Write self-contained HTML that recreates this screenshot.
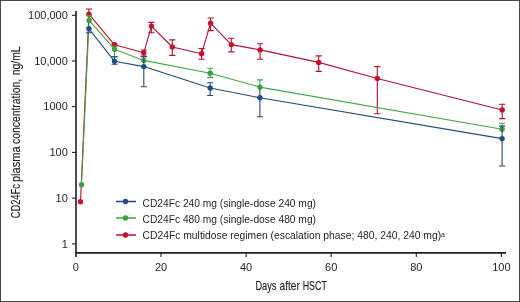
<!DOCTYPE html>
<html><head><meta charset="utf-8"><style>
html,body{margin:0;padding:0;background:#fff;}
body{width:520px;height:302px;overflow:hidden;position:relative;}
.frame{position:absolute;left:0;top:0;width:518px;height:300px;border:1px solid #474747;}
svg{position:absolute;left:0;top:0;will-change:transform;}
.t{font-family:"Liberation Sans",sans-serif;font-size:11px;fill:#231f20;}
.c{font-family:"Liberation Sans",sans-serif;font-size:12.6px;fill:#231f20;stroke:#231f20;stroke-width:0.15px;}
.l{font-family:"Liberation Sans",sans-serif;font-size:10.3px;fill:#231f20;}
.c2{font-family:"Liberation Sans",sans-serif;font-size:12.2px;fill:#231f20;stroke:#231f20;stroke-width:0.15px;}
.s{font-family:"Liberation Sans",sans-serif;font-size:7px;fill:#231f20;}
</style></head><body>
<div class="frame"></div>
<svg width="520" height="302" viewBox="0 0 520 302">
<path d="M76,11V257" stroke="#231f20" stroke-width="1.6" fill="none"/>
<path d="M75.2,252.9H506" stroke="#231f20" stroke-width="1.6" fill="none"/>
<path d="M72,15.3H76" stroke="#231f20" stroke-width="1.1"/>
<text x="67.8" y="19.1" text-anchor="end" class="t">100,000</text>
<path d="M72,61.0H76" stroke="#231f20" stroke-width="1.1"/>
<text x="67.8" y="64.8" text-anchor="end" class="t">10,000</text>
<path d="M72,106.6H76" stroke="#231f20" stroke-width="1.1"/>
<text x="67.8" y="110.4" text-anchor="end" class="t">1000</text>
<path d="M72,152.4H76" stroke="#231f20" stroke-width="1.1"/>
<text x="67.8" y="156.2" text-anchor="end" class="t">100</text>
<path d="M72,198.1H76" stroke="#231f20" stroke-width="1.1"/>
<text x="67.8" y="201.9" text-anchor="end" class="t">10</text>
<path d="M72,243.9H76" stroke="#231f20" stroke-width="1.1"/>
<text x="67.8" y="247.7" text-anchor="end" class="t">1</text>
<text x="75.9" y="270.8" text-anchor="middle" class="t">0</text>
<path d="M161.0,253V257" stroke="#231f20" stroke-width="1.1"/>
<text x="161.0" y="270.8" text-anchor="middle" class="t">20</text>
<path d="M246.1,253V257" stroke="#231f20" stroke-width="1.1"/>
<text x="246.1" y="270.8" text-anchor="middle" class="t">40</text>
<path d="M331.2,253V257" stroke="#231f20" stroke-width="1.1"/>
<text x="331.2" y="270.8" text-anchor="middle" class="t">60</text>
<path d="M416.3,253V257" stroke="#231f20" stroke-width="1.1"/>
<text x="416.3" y="270.8" text-anchor="middle" class="t">80</text>
<path d="M501.4,253V257" stroke="#231f20" stroke-width="1.1"/>
<text x="501.4" y="270.8" text-anchor="middle" class="t">100</text>
<text x="255.5" y="289.6" class="c" textLength="20.9" lengthAdjust="spacingAndGlyphs">Days</text>
<text x="279.6" y="289.6" class="c" textLength="20.2" lengthAdjust="spacingAndGlyphs">after</text>
<text x="302.7" y="289.6" class="c" textLength="24.1" lengthAdjust="spacingAndGlyphs">HSCT</text>
<text transform="translate(19.8,218.3) rotate(-90)" class="c2" textLength="34.2" lengthAdjust="spacingAndGlyphs">CD24Fc</text>
<text transform="translate(19.8,182.1) rotate(-90)" class="c2" textLength="35.8" lengthAdjust="spacingAndGlyphs">plasma</text>
<text transform="translate(19.8,143.9) rotate(-90)" class="c2" textLength="65.0" lengthAdjust="spacingAndGlyphs">concentration,</text>
<text transform="translate(19.8,75.2) rotate(-90)" class="c2" textLength="28.8" lengthAdjust="spacingAndGlyphs">ng/mL</text>
<polyline points="80.5,201.7 88.9,14.2 114.5,44.8 143.8,52.8 151.4,26.1 172.3,47.0 201.6,53.7 210.6,23.2 231.3,44.6 260.1,49.9 318.7,62.4 377.3,78.5 502.2,110.0" fill="none" stroke="#b5112f" stroke-width="1.1" stroke-linejoin="round"/>
<path d="M88.9,14.2V9.0M85.8,9.0H92.0" stroke="#b5112f" stroke-width="1.1" fill="none"/>
<path d="M114.5,44.8V43.7M111.4,43.7H117.6" stroke="#b5112f" stroke-width="1.1" fill="none"/>
<path d="M143.8,52.8V50.0M140.7,50.0H146.9" stroke="#b5112f" stroke-width="1.1" fill="none"/>
<path d="M143.8,52.8V56.0M140.7,56.0H146.9" stroke="#b5112f" stroke-width="1.1" fill="none"/>
<path d="M151.4,26.1V22.4M148.3,22.4H154.5" stroke="#b5112f" stroke-width="1.1" fill="none"/>
<path d="M151.4,26.1V32.8M148.3,32.8H154.5" stroke="#b5112f" stroke-width="1.1" fill="none"/>
<path d="M172.3,47.0V39.9M169.2,39.9H175.4" stroke="#b5112f" stroke-width="1.1" fill="none"/>
<path d="M172.3,47.0V55.4M169.2,55.4H175.4" stroke="#b5112f" stroke-width="1.1" fill="none"/>
<path d="M201.6,53.7V48.5M198.5,48.5H204.7" stroke="#b5112f" stroke-width="1.1" fill="none"/>
<path d="M201.6,53.7V59.3M198.5,59.3H204.7" stroke="#b5112f" stroke-width="1.1" fill="none"/>
<path d="M210.6,23.2V18M207.5,18H213.7" stroke="#b5112f" stroke-width="1.1" fill="none"/>
<path d="M210.6,23.2V30.6M207.5,30.6H213.7" stroke="#b5112f" stroke-width="1.1" fill="none"/>
<path d="M231.3,44.6V38.3M228.2,38.3H234.4" stroke="#b5112f" stroke-width="1.1" fill="none"/>
<path d="M231.3,44.6V51.9M228.2,51.9H234.4" stroke="#b5112f" stroke-width="1.1" fill="none"/>
<path d="M260.1,49.9V43.7M257.0,43.7H263.2" stroke="#b5112f" stroke-width="1.1" fill="none"/>
<path d="M260.1,49.9V59.3M257.0,59.3H263.2" stroke="#b5112f" stroke-width="1.1" fill="none"/>
<path d="M318.7,62.4V55.9M315.6,55.9H321.8" stroke="#b5112f" stroke-width="1.1" fill="none"/>
<path d="M318.7,62.4V71.4M315.6,71.4H321.8" stroke="#b5112f" stroke-width="1.1" fill="none"/>
<path d="M377.3,78.5V66.6M374.2,66.6H380.4" stroke="#b5112f" stroke-width="1.1" fill="none"/>
<path d="M377.3,78.5V113.7M374.2,113.7H380.4" stroke="#b5112f" stroke-width="1.1" fill="none"/>
<path d="M502.2,110.0V104.3M499.1,104.3H505.3" stroke="#b5112f" stroke-width="1.1" fill="none"/>
<path d="M502.2,110.0V118.6M499.1,118.6H505.3" stroke="#b5112f" stroke-width="1.1" fill="none"/>
<circle cx="80.5" cy="201.7" r="2.7" fill="#c8102e"/>
<circle cx="88.9" cy="14.2" r="2.7" fill="#c8102e"/>
<circle cx="114.5" cy="44.8" r="2.7" fill="#c8102e"/>
<circle cx="143.8" cy="52.8" r="2.7" fill="#c8102e"/>
<circle cx="151.4" cy="26.1" r="2.7" fill="#c8102e"/>
<circle cx="172.3" cy="47.0" r="2.7" fill="#c8102e"/>
<circle cx="201.6" cy="53.7" r="2.7" fill="#c8102e"/>
<circle cx="210.6" cy="23.2" r="2.7" fill="#c8102e"/>
<circle cx="231.3" cy="44.6" r="2.7" fill="#c8102e"/>
<circle cx="260.1" cy="49.9" r="2.7" fill="#c8102e"/>
<circle cx="318.7" cy="62.4" r="2.7" fill="#c8102e"/>
<circle cx="377.3" cy="78.5" r="2.7" fill="#c8102e"/>
<circle cx="502.2" cy="110.0" r="2.7" fill="#c8102e"/>
<polyline points="81.5,184.7 89.1,20.4 114.5,49.2 143.8,60.4 210.2,73.2 259.9,87.1 502.1,129.3" fill="none" stroke="#45a445" stroke-width="1.1" stroke-linejoin="round"/>
<path d="M89.1,20.4V15.6M86.0,15.6H92.2" stroke="#45a445" stroke-width="1.1" fill="none"/>
<path d="M114.5,49.2V46.3M111.4,46.3H117.6" stroke="#45a445" stroke-width="1.1" fill="none"/>
<path d="M114.5,49.2V56.6M111.4,56.6H117.6" stroke="#45a445" stroke-width="1.1" fill="none"/>
<path d="M210.2,73.2V68.3M207.1,68.3H213.3" stroke="#45a445" stroke-width="1.1" fill="none"/>
<path d="M210.2,73.2V77.6M207.1,77.6H213.3" stroke="#45a445" stroke-width="1.1" fill="none"/>
<path d="M259.9,87.1V79.9M256.8,79.9H263.0" stroke="#45a445" stroke-width="1.1" fill="none"/>
<path d="M502.1,129.3V123.2M499.0,123.2H505.2" stroke="#45a445" stroke-width="1.1" fill="none"/>
<circle cx="81.5" cy="184.7" r="2.7" fill="#3aa33a"/>
<circle cx="89.1" cy="20.4" r="2.7" fill="#3aa33a"/>
<circle cx="114.5" cy="49.2" r="2.7" fill="#3aa33a"/>
<circle cx="143.8" cy="60.4" r="2.7" fill="#3aa33a"/>
<circle cx="210.2" cy="73.2" r="2.7" fill="#3aa33a"/>
<circle cx="259.9" cy="87.1" r="2.7" fill="#3aa33a"/>
<circle cx="502.1" cy="129.3" r="2.7" fill="#3aa33a"/>
<polyline points="88.9,28.6 114.5,61.3 143.8,66.6 210.2,88.0 259.9,97.8 502.1,138.6" fill="none" stroke="#264a75" stroke-width="1.1" stroke-linejoin="round"/>
<path d="M88.9,28.6V32.8M85.8,32.8H92.0" stroke="#264a75" stroke-width="1.1" fill="none"/>
<path d="M114.5,61.3V56.8M111.4,56.8H117.6" stroke="#264a75" stroke-width="1.1" fill="none"/>
<path d="M114.5,61.3V64.2M111.4,64.2H117.6" stroke="#264a75" stroke-width="1.1" fill="none"/>
<path d="M143.8,66.6V56.6M140.7,56.6H146.9" stroke="#264a75" stroke-width="1.1" fill="none"/>
<path d="M143.8,66.6V86.8M140.7,86.8H146.9" stroke="#264a75" stroke-width="1.1" fill="none"/>
<path d="M210.2,88.0V82.8M207.1,82.8H213.3" stroke="#264a75" stroke-width="1.1" fill="none"/>
<path d="M210.2,88.0V95.5M207.1,95.5H213.3" stroke="#264a75" stroke-width="1.1" fill="none"/>
<path d="M259.9,97.8V88.0" stroke="#264a75" stroke-width="1.1" fill="none"/>
<path d="M259.9,97.8V116.7M256.8,116.7H263.0" stroke="#264a75" stroke-width="1.1" fill="none"/>
<path d="M502.1,138.6V126.1M499.0,126.1H505.2" stroke="#264a75" stroke-width="1.1" fill="none"/>
<path d="M502.1,138.6V166M499.0,166H505.2" stroke="#264a75" stroke-width="1.1" fill="none"/>
<circle cx="88.9" cy="28.6" r="2.7" fill="#1d4e89"/>
<circle cx="114.5" cy="61.3" r="2.7" fill="#1d4e89"/>
<circle cx="143.8" cy="66.6" r="2.7" fill="#1d4e89"/>
<circle cx="210.2" cy="88.0" r="2.7" fill="#1d4e89"/>
<circle cx="259.9" cy="97.8" r="2.7" fill="#1d4e89"/>
<circle cx="502.1" cy="138.6" r="2.7" fill="#1d4e89"/>
<path d="M116,201.5H136" stroke="#264a75" stroke-width="1.5"/>
<circle cx="125.5" cy="201.5" r="2.7" fill="#1d4e89"/>
<text x="142.5" y="206.5" class="l" textLength="173.5" lengthAdjust="spacingAndGlyphs">CD24Fc 240 mg (single-dose 240 mg)</text>
<path d="M116,218.0H136" stroke="#45a445" stroke-width="1.5"/>
<circle cx="125.5" cy="218.0" r="2.7" fill="#3aa33a"/>
<text x="142.5" y="222.95" class="l" textLength="173.5" lengthAdjust="spacingAndGlyphs">CD24Fc 480 mg (single-dose 480 mg)</text>
<path d="M116,235.0H136" stroke="#b5112f" stroke-width="1.5"/>
<circle cx="125.5" cy="235.0" r="2.7" fill="#c8102e"/>
<text x="142.5" y="239.35" class="l" textLength="298.6" lengthAdjust="spacingAndGlyphs">CD24Fc multidose regimen (escalation phase; 480, 240, 240 mg)</text>
<text x="441.0" y="236.6" class="s">a</text>
</svg>
</body></html>
